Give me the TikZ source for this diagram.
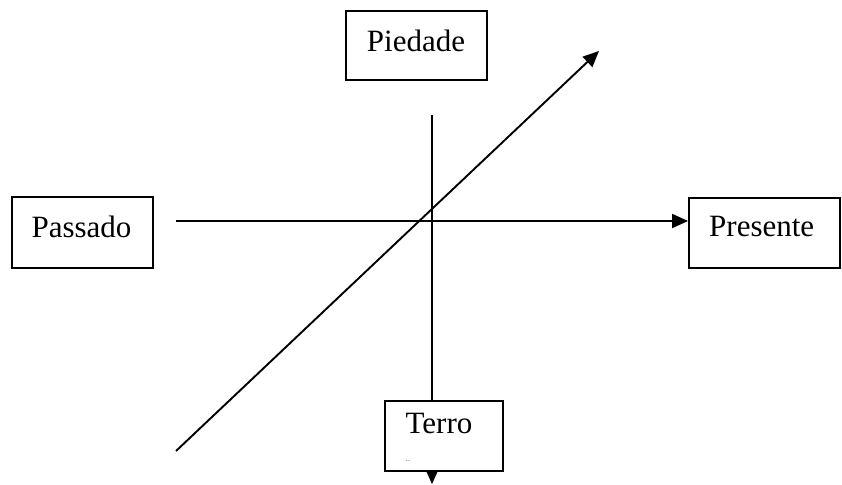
\documentclass[tikz,border=0pt]{standalone}
\usepackage{fontspec}
\setmainfont{Liberation Serif}
\usetikzlibrary{arrows.meta}
\begin{document}
\begin{tikzpicture}[x=1pt,y=-1pt,
  box/.style={draw, line width=1.9pt, fill=white, inner sep=0pt},
  lbl/.style={inner sep=0pt, anchor=base, font=\fontsize{31}{37}\selectfont},
  conn/.style={line width=1.9pt, -{Triangle[length=16pt,width=14pt]}}]
\useasboundingbox (0,0) rectangle (842,484);
% coordinates for free ends
\coordinate (vtop) at (432,115);
\coordinate (vbot) at (432,484);
\coordinate (hstart) at (176,221);
\coordinate (dstart) at (176,451);
\coordinate (dend) at (599,51);
% vertical connector (runs behind Terro box)
\draw[conn] (vtop) -- (vbot);
% boxes
\node[box, minimum width=141pt, minimum height=69pt] (piedade) at (416.5,45.5) {};
\node[lbl] (piedadetxt) at (416,52) {Piedade};
\node[box, minimum width=141pt, minimum height=71pt] (passado) at (82.5,232.5) {};
\node[lbl] (passadotxt) at (81.5,237) {Passado};
\node[box, minimum width=151pt, minimum height=70pt] (presente) at (764.5,233) {};
\node[lbl, anchor=base west] (presentetxt) at (709,236) {Presente};
\node[box, minimum width=118pt, minimum height=70pt] (terro) at (444,436) {};
\node[lbl] (terrotxt) at (439,433) {Terro};
\node[inner sep=0pt, font=\fontsize{5}{6}\selectfont] (terromark) at (408,462) {-\,-};
% horizontal connector
\draw[conn] (hstart) -- (hstart -| presente.west);
% diagonal connector
\draw[conn] (dstart) -- (dend);
\end{tikzpicture}
\end{document}
